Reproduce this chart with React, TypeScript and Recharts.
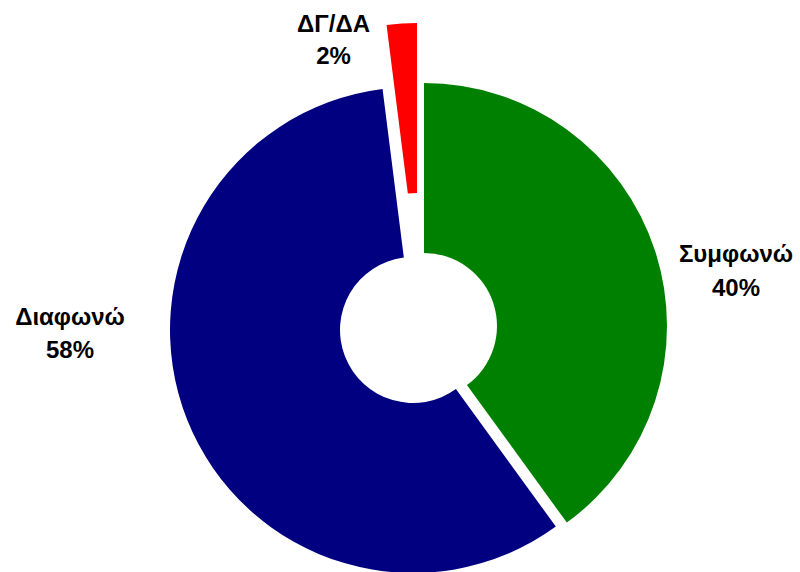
import React from 'react';
import { PieChart, Pie, Cell } from 'recharts';

const categories = ['Συμφωνώ', 'Διαφωνώ', 'ΔΓ/ΔΑ'];
const values = [40, 58, 2];
const colors = ['#008000', '#000080', '#FF0000'];

// each slice is drawn by its own Pie, shifted outward (exploded)
const sliceCenters = [
  { cx: 424, cy: 326 },
  { cx: 413, cy: 330 },
  { cx: 417, cy: 266 },
];
const labelAnchors = [
  { x: 736, y1: 262, y2: 296 },
  { x: 70, y1: 325, y2: 358 },
  { x: 333.5, y1: 32, y2: 64 },
];

const data = categories.map((name, i) => ({ name, value: values[i] }));

const FONT = '"Liberation Sans", Arial, sans-serif';

export default function App() {
  return (
    <div style={{ position: 'absolute', left: 0, top: 0, width: 800, height: 572, background: '#fff' }}>
      <PieChart width={800} height={572} margin={{ top: 0, right: 0, bottom: 0, left: 0 }}>
        {sliceCenters.map((c, si) => (
          <Pie
            key={si}
            data={data}
            dataKey="value"
            nameKey="name"
            cx={c.cx}
            cy={c.cy}
            innerRadius={73}
            outerRadius={243}
            startAngle={90}
            endAngle={-270}
            stroke="none"
            isAnimationActive={false}
            labelLine={false}
            label={(p: any) => {
              if (p.index !== si) return null;
              const a = labelAnchors[si];
              const pct = Math.round(p.percent * 100) + '%';
              return (
                <g key={'l' + si}>
                  <text x={a.x} y={a.y1} textAnchor="middle" fontFamily={FONT} fontWeight="bold" fontSize={24} fill="#000">
                    {p.name}
                  </text>
                  <text x={a.x} y={a.y2} textAnchor="middle" fontFamily={FONT} fontWeight="bold" fontSize={24} fill="#000">
                    {pct}
                  </text>
                </g>
              );
            }}
          >
            {data.map((d, i) => (
              <Cell key={i} fill={i === si ? colors[i] : 'transparent'} />
            ))}
          </Pie>
        ))}
      </PieChart>
    </div>
  );
}
